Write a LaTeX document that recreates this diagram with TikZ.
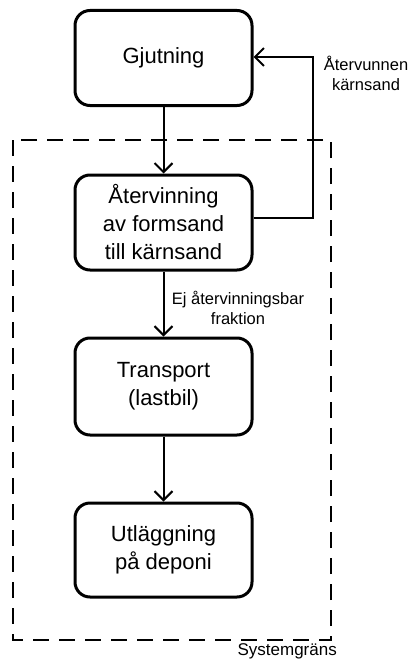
\documentclass[tikz,border=0pt]{standalone}
\usepackage{fontspec}
\setmainfont{Liberation Sans}
\usetikzlibrary{arrows.meta}
\tikzset{
  process/.style={draw, line width=3pt, rounded corners=15pt, minimum width=177pt,
    minimum height=95pt, align=center, inner sep=0pt,
    font=\fontsize{22}{28}\selectfont},
  flow/.style={line width=2pt, -{Straight Barb[length=9pt,width=18pt,line width=2pt]}},
  note/.style={align=center, inner sep=0pt, font=\fontsize{16.5}{20}\selectfont},
  boundary/.style={line width=2.5pt, dash pattern=on 16pt off 10pt},
}
\begin{document}
\begin{tikzpicture}[x=1pt,y=1pt]
\useasboundingbox (0,0) rectangle (413,-661);
% system boundary
\draw[boundary] (13,-140) rectangle (331,-640);
\node[anchor=north east, inner sep=0pt, font=\fontsize{17}{20}\selectfont] (sys) at (337,-643) {Systemgräns};
% process steps
\node[process] (gjut) at (163.5,-58) {Gjutning};
\node[process] (ater) at (163.5,-222.5) {Återvinning\\av formsand\\till kärnsand};
\node[process, minimum height=97pt] (trans) at (163.5,-386.5) {Transport\\(lastbil)};
\node[process, minimum height=94pt] (utl) at (163.5,-550) {Utläggning\\på deponi};
% flows
\draw[flow] (gjut) -- (ater);
\draw[flow] (ater) -- (trans);
\draw[flow] (trans) -- (utl);
\coordinate (fbLow) at (313,-218);
\coordinate (fbHigh) at (313,-57);
\draw[flow] (ater.east |- fbLow) -- (fbLow) -- (fbHigh) -- (gjut.east |- fbHigh);
% flow labels
\node[note] (lblRec) at (366,-73) {Återvunnen\\kärnsand};
\node[note] (lblRest) at (238,-308) {Ej återvinningsbar\\fraktion};
\end{tikzpicture}
\end{document}
